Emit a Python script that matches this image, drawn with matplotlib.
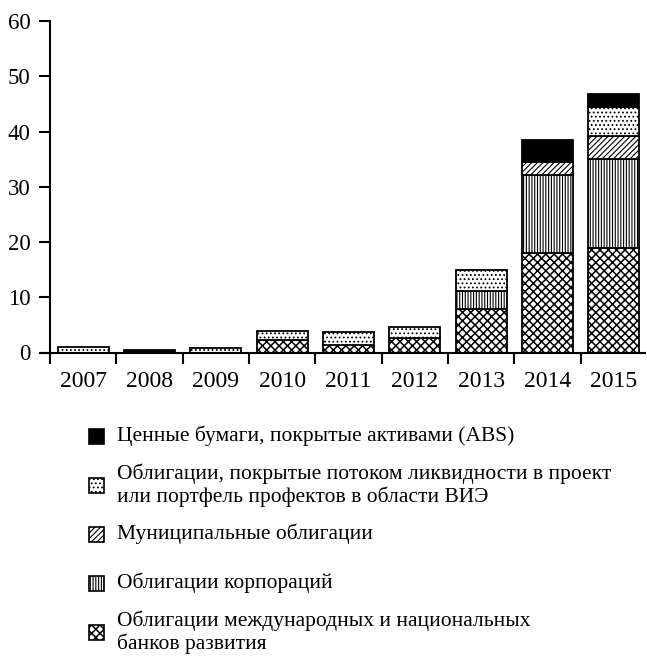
import matplotlib
matplotlib.use("Agg")
import matplotlib.pyplot as plt
from matplotlib.patches import Rectangle
import numpy as np

plt.rcParams['font.family'] = ['Liberation Serif', 'DejaVu Serif']

years = ['2007', '2008', '2009', '2010', '2011', '2012', '2013', '2014', '2015']
dev_banks = [0, 0, 0, 2.2, 1.4, 2.6, 7.9, 18.0, 19.0]
corporate = [0, 0, 0, 0, 0, 0, 3.2, 14.1, 16.0]
municipal = [0, 0, 0, 0, 0, 0, 0, 2.3, 4.1]
project = [1.0, 0, 0.8, 1.7, 2.3, 2.0, 3.9, 0, 5.3]
abs_sec = [0, 0.4, 0, 0, 0, 0, 0, 4.0, 2.3]

# (values, face colour, hatch, hatch line width, legend label)
series = [
  (dev_banks, 'white', 'xxxx', 1.1, "Облигации международных и национальных\nбанков развития"),
  (corporate, 'white', '||||||', 0.8, "Облигации корпораций"),
  (municipal, 'white', '//////', 0.8, "Муниципальные облигации"),
  (project, 'white', '....', 0.8, "Облигации, покрытые потоком ликвидности в проект\nили портфель профектов в области ВИЭ"),
  (abs_sec, 'black', '', 0.8, "Ценные бумаги, покрытые активами (ABS)"),
]

W, H = 647, 656
fig = plt.figure(figsize=(W / 100, H / 100), dpi=100)
ax = fig.add_axes([50 / W, 1 - 352.5 / H, 595 / W, 331.5 / H])

x = np.arange(len(years))
bottom = np.zeros(len(years))
for vals, color, hatch, hlw, label in series:
  vals = np.array(vals, dtype=float)
  mask = vals > 0
  with plt.rc_context({'hatch.linewidth': hlw}):
    ax.bar(x[mask], vals[mask], bottom=bottom[mask], width=0.77, color=color,
           edgecolor='black', hatch=hatch, linewidth=1.3, zorder=2)
  bottom += vals

ax.set_xlim(-0.5, 8.47)
ax.set_ylim(0, 60)
ax.set_yticks(range(0, 61, 10))
ax.set_xticks(x)
ax.set_xticklabels(years)
ax.set_xticks(np.arange(-0.5, 8.0, 1), minor=True)
ax.tick_params(axis='x', which='major', length=0, pad=13, labelsize=17)
ax.tick_params(axis='x', which='minor', length=8, width=1.5, direction='out')
ax.tick_params(axis='y', length=8, width=1.5, direction='out', pad=6, labelsize=16.5)
for s in ['top', 'right']:
  ax.spines[s].set_visible(False)
for s in ['left', 'bottom']:
  ax.spines[s].set_linewidth(1.5)
# x axis line extends left to the end of the y tick
ax.spines['bottom'].set_bounds(-0.5 - 8 / 66.3, 8.47)

# legend below the chart, top item first
for i, (vals, color, hatch, hlw, label) in enumerate(reversed(series)):
  yc = 1 - (436 + 49 * i) / H
  with plt.rc_context({'hatch.linewidth': hlw}):
    fig.add_artist(Rectangle((89 / W, yc - 7.5 / H), 15 / W, 15 / H, transform=fig.transFigure,
                             facecolor=color, edgecolor='black', hatch=hatch, linewidth=1.2))
  fig.text(117 / W, yc, label, fontsize=15.5, va='center', ha='left', linespacing=1.15)

fig.savefig('out.png', dpi=100)
